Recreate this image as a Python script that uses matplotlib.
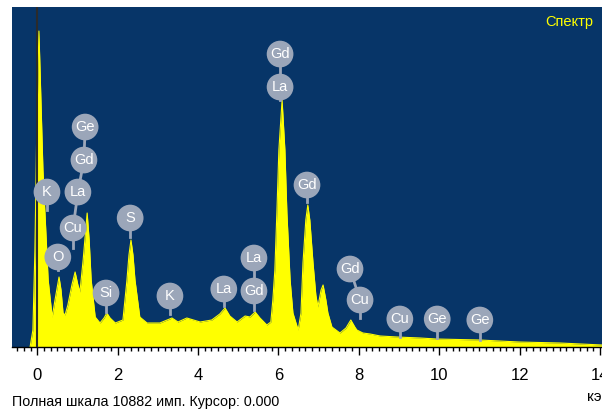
import matplotlib
matplotlib.use("Agg")
import matplotlib.pyplot as plt
from matplotlib.ticker import MultipleLocator

plt.rcParams['font.family'] = ['Liberation Sans Narrow', 'Liberation Sans', 'DejaVu Sans']

# Spectrum: energy (keV) and counts
energy = [-0.18, -0.11, -0.06, -0.01, 0.04, 0.09, 0.14, 0.19, 0.27, 0.37,
          0.44, 0.54, 0.59, 0.64, 0.69, 0.76, 0.86, 0.94, 1.01, 1.06,
          1.14, 1.24, 1.29, 1.34, 1.44, 1.56, 1.66, 1.73, 1.81, 1.94,
          2.13, 2.23, 2.28, 2.33, 2.38, 2.43, 2.55, 2.73, 3.05, 3.35,
          3.50, 3.72, 4.05, 4.34, 4.54, 4.67, 4.79, 4.97, 5.17, 5.29,
          5.42, 5.54, 5.71, 5.81, 5.86, 5.91, 5.96, 6.01, 6.09, 6.16,
          6.21, 6.29, 6.36, 6.49, 6.56, 6.61, 6.68, 6.73, 6.78, 6.86,
          6.93, 6.98, 7.06, 7.11, 7.18, 7.23, 7.33, 7.53, 7.68, 7.80,
          7.90, 7.95, 8.10, 8.28, 8.53, 8.95, 9.52, 9.92, 11.01, 11.98,
          13.00, 14.05]
counts = [0, 544, 3104, 7264, 10113, 7904, 5664, 4288, 2144, 960,
          1504, 2240, 1824, 1088, 1024, 1344, 1984, 2400, 1984, 1760,
          2784, 4288, 3424, 2144, 960, 768, 928, 1088, 928, 768,
          864, 2144, 2944, 3424, 2944, 2144, 960, 768, 768, 928,
          800, 928, 800, 864, 1056, 1248, 992, 800, 992, 960,
          1120, 928, 704, 800, 1504, 2464, 4288, 6304, 7904, 6304,
          4288, 2144, 1088, 544, 1088, 2688, 4064, 4544, 4064, 2688,
          1664, 1280, 1824, 1984, 1504, 1088, 640, 448, 608, 864,
          640, 544, 448, 416, 352, 320, 288, 256, 224, 160,
          128, 64]

full_scale = 10882

# Element markers: groups stacked bottom -> top, with the stem tip
groups = [
    (['K'], [0.24], [4960], 4384),
    (['O'], [0.51], [2880], 2464),
    (['Cu', 'La', 'Gd', 'Ge'], [0.89, 1.01, 1.16, 1.19], [3808, 4960, 5984, 7040], 3168),
    (['Si'], [1.71], [1728], 1120),
    (['S'], [2.31], [4128], 3520),
    (['K'], [3.30], [1632], 1056),
    (['La'], [4.64], [1856], 1312),
    (['Gd', 'La'], [5.39, 5.39], [1792, 2848], 1184),
    (['La', 'Gd'], [6.04, 6.04], [8320, 9376], 7904),
    (['Gd'], [6.71], [5184], 4640),
    (['Cu', 'Gd'], [8.03, 7.78], [1504, 2496], 928),
    (['Cu'], [9.02], [896], 320),
    (['Ge'], [9.95], [896], 288),
    (['Ge'], [11.01], [864], 224),
]

bg = '#073568'
marker_col = '#9ba6b9'

fig = plt.figure(figsize=(6.02, 4.11), dpi=100)
ax = fig.add_axes([12 / 602, 1 - 347 / 411, 590 / 602, 340 / 411])
ax.set_facecolor(bg)

ax.fill_between(energy, counts, 0, color='#ffff00', linewidth=0, zorder=2)
ax.plot(energy, counts, color='#ffff00', linewidth=0.8, zorder=2)

# cursor
ax.axvline(0.0, color='#2b2b2b', linewidth=1.5, zorder=3)

for names, xs, ys, tip in groups:
    ax.plot([xs[0], xs[0]], [ys[0], tip], color=marker_col, linewidth=2, zorder=4)
    ax.plot(xs, ys, color=marker_col, linewidth=2, zorder=4)
    ax.scatter(xs, ys, s=370, color=marker_col, edgecolors='none', zorder=5)
    for n, x, y in zip(names, xs, ys):
        ax.text(x, y, n, color='white', fontsize=10.5, ha='center', va='center', zorder=6)

ax.set_xlim(-0.63, 14.05)
ax.set_ylim(0, full_scale)

for s in ['left', 'right', 'top']:
    ax.spines[s].set_visible(False)
ax.spines['bottom'].set_color('black')
ax.spines['bottom'].set_linewidth(1)
ax.set_yticks([])
ax.xaxis.set_major_locator(MultipleLocator(2))
ax.xaxis.set_minor_locator(MultipleLocator(1 / 6))
ax.tick_params(axis='x', which='major', direction='out', length=6, width=1,
               labelsize=12, pad=9, color='black')
ax.tick_params(axis='x', which='minor', direction='out', length=3, width=1, color='black')

fig.text(545 / 602, 1 - 22 / 411, 'Спектр', color='#ffff00',
         fontsize=10.5, ha='left', va='center')

fig.text(12 / 602, 1 - 402 / 411, 'Полная шкала 10882 имп. Курсор: 0.000',
         fontsize=10.3, ha='left', va='center', color='black')
fig.text(587 / 602, 1 - 397 / 411, 'кэВ', fontsize=11, ha='left', va='center', color='black')

fig.savefig('out.png', dpi=100, facecolor='white')
